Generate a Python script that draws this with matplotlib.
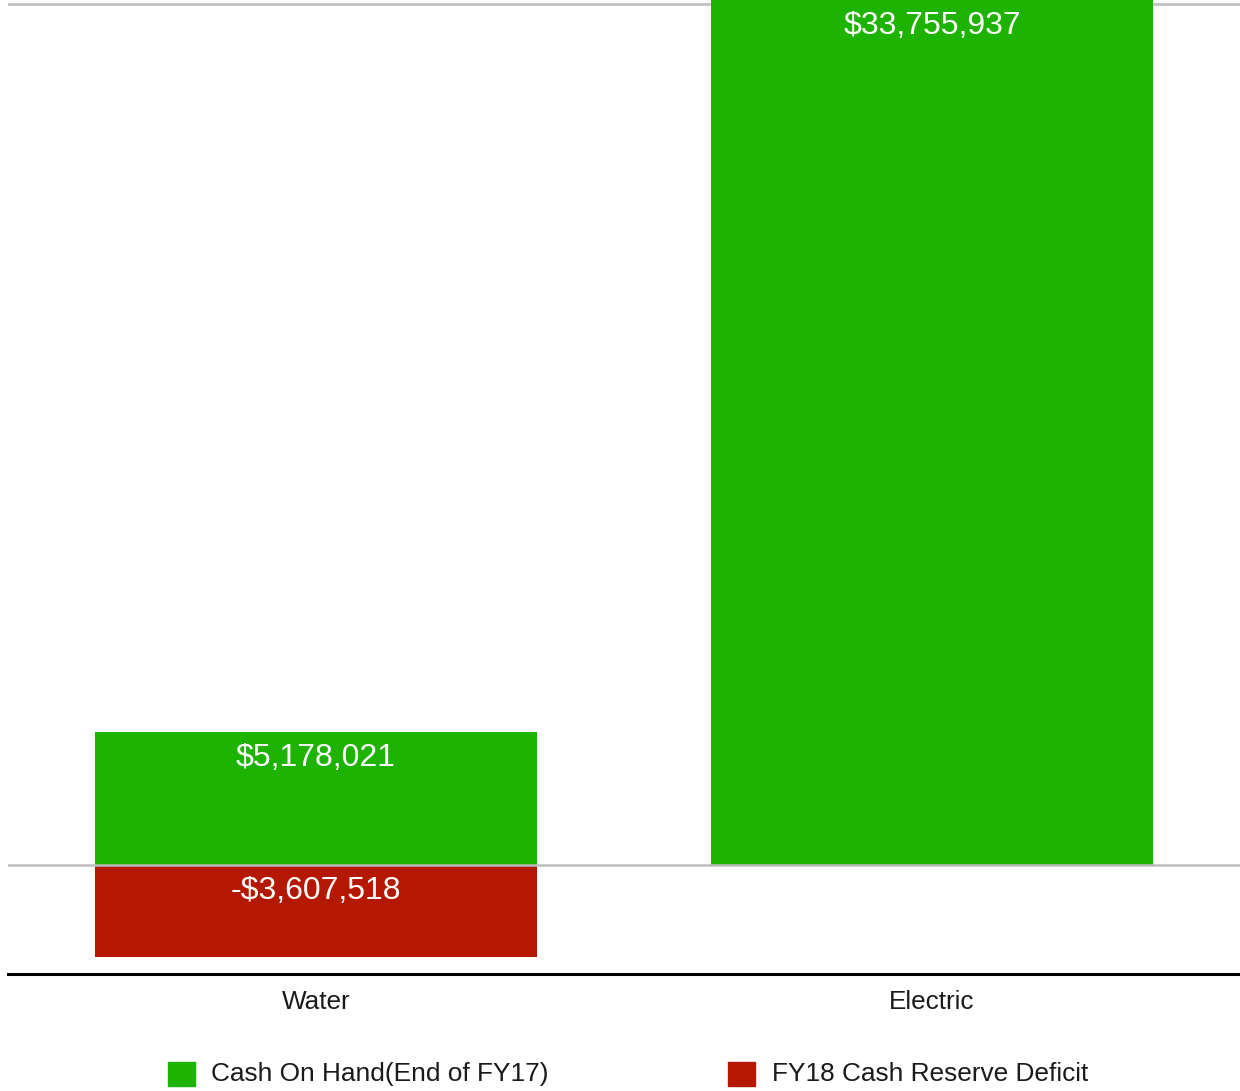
import matplotlib
matplotlib.use("Agg")
import matplotlib.pyplot as plt
from matplotlib.patches import Rectangle

categories = ["Water", "Electric"]
cash_on_hand = [5178021, 33755937]
deficit = [-3607518, None]
series_names = ["Cash On Hand(End of FY17)", "FY18 Cash Reserve Deficit"]
series_colors = ["#1db300", "#b51800"]

W, H = 1240, 1091
fig = plt.figure(figsize=(W / 100, H / 100), dpi=100)
plt.rcParams['font.family'] = ['Liberation Sans', 'DejaVu Sans']

ax_left, ax_right, ax_top, ax_bottom = 8, 1240, 0, 974
ax = fig.add_axes([ax_left / W, 1 - ax_bottom / H, (ax_right - ax_left) / W, (ax_bottom - ax_top) / H])

ymax = max(cash_on_hand)
zero_px = 865
ymin = -ymax * (ax_bottom - zero_px) / (zero_px - ax_top)
ax.set_ylim(ymin, ymax)
ax.set_xlim(-0.5, 1.5)

x = list(range(len(categories)))
width = 0.716
ax.bar(x, cash_on_hand, width=width, color=series_colors[0], zorder=2)
d_x = [i for i, v in zip(x, deficit) if v is not None]
d_v = [v for v in deficit if v is not None]
ax.bar(d_x, d_v, width=width, color=series_colors[1], zorder=2)

# gridlines
ax.axhline(0, color="#bdbdbd", lw=1.8, zorder=3)
topfrac = 1 - 4 / (ax_bottom - ax_top)
ax.plot([0, 1], [topfrac, topfrac], transform=ax.transAxes, color="#bdbdbd", lw=1.8, zorder=1)

for s in ["top", "right", "left"]:
    ax.spines[s].set_visible(False)
ax.spines["bottom"].set_color("#000000")
ax.spines["bottom"].set_linewidth(2.2)
ax.set_yticks([])
ax.set_xticks([])

def fmt(v):
    return ("-$" if v < 0 else "$") + f"{abs(v):,}"

for i, v in zip(x, cash_on_hand):
    ax.annotate(fmt(v), xy=(i, min(v, ymax)), xytext=(0, -26), textcoords="offset pixels",
                ha="center", va="center", color="white", fontsize=23)
for i, v in zip(d_x, d_v):
    ax.annotate(fmt(v), xy=(i, 0), xytext=(0, -26), textcoords="offset pixels",
                ha="center", va="center", color="white", fontsize=23)

for i, c in zip(x, categories):
    ax.annotate(c, xy=(i, 0), xycoords=("data", "axes fraction"), xytext=(0, -28),
                textcoords="offset pixels", ha="center", va="center", color="#1a1a1a",
                fontsize=18.8, annotation_clip=False)

# legend
leg_items = [(168, 211), (728, 772)]
for (sx, tx), name, col in zip(leg_items, series_names, series_colors):
    fig.patches.append(Rectangle((sx / W, 1 - 1086 / H), 27 / W, 24 / H,
                                 transform=fig.transFigure, color=col))
    fig.text(tx / W, 1 - 1074 / H, name, ha="left", va="center", fontsize=18.9, color="#1a1a1a")

fig.savefig("out.png", dpi=100)
